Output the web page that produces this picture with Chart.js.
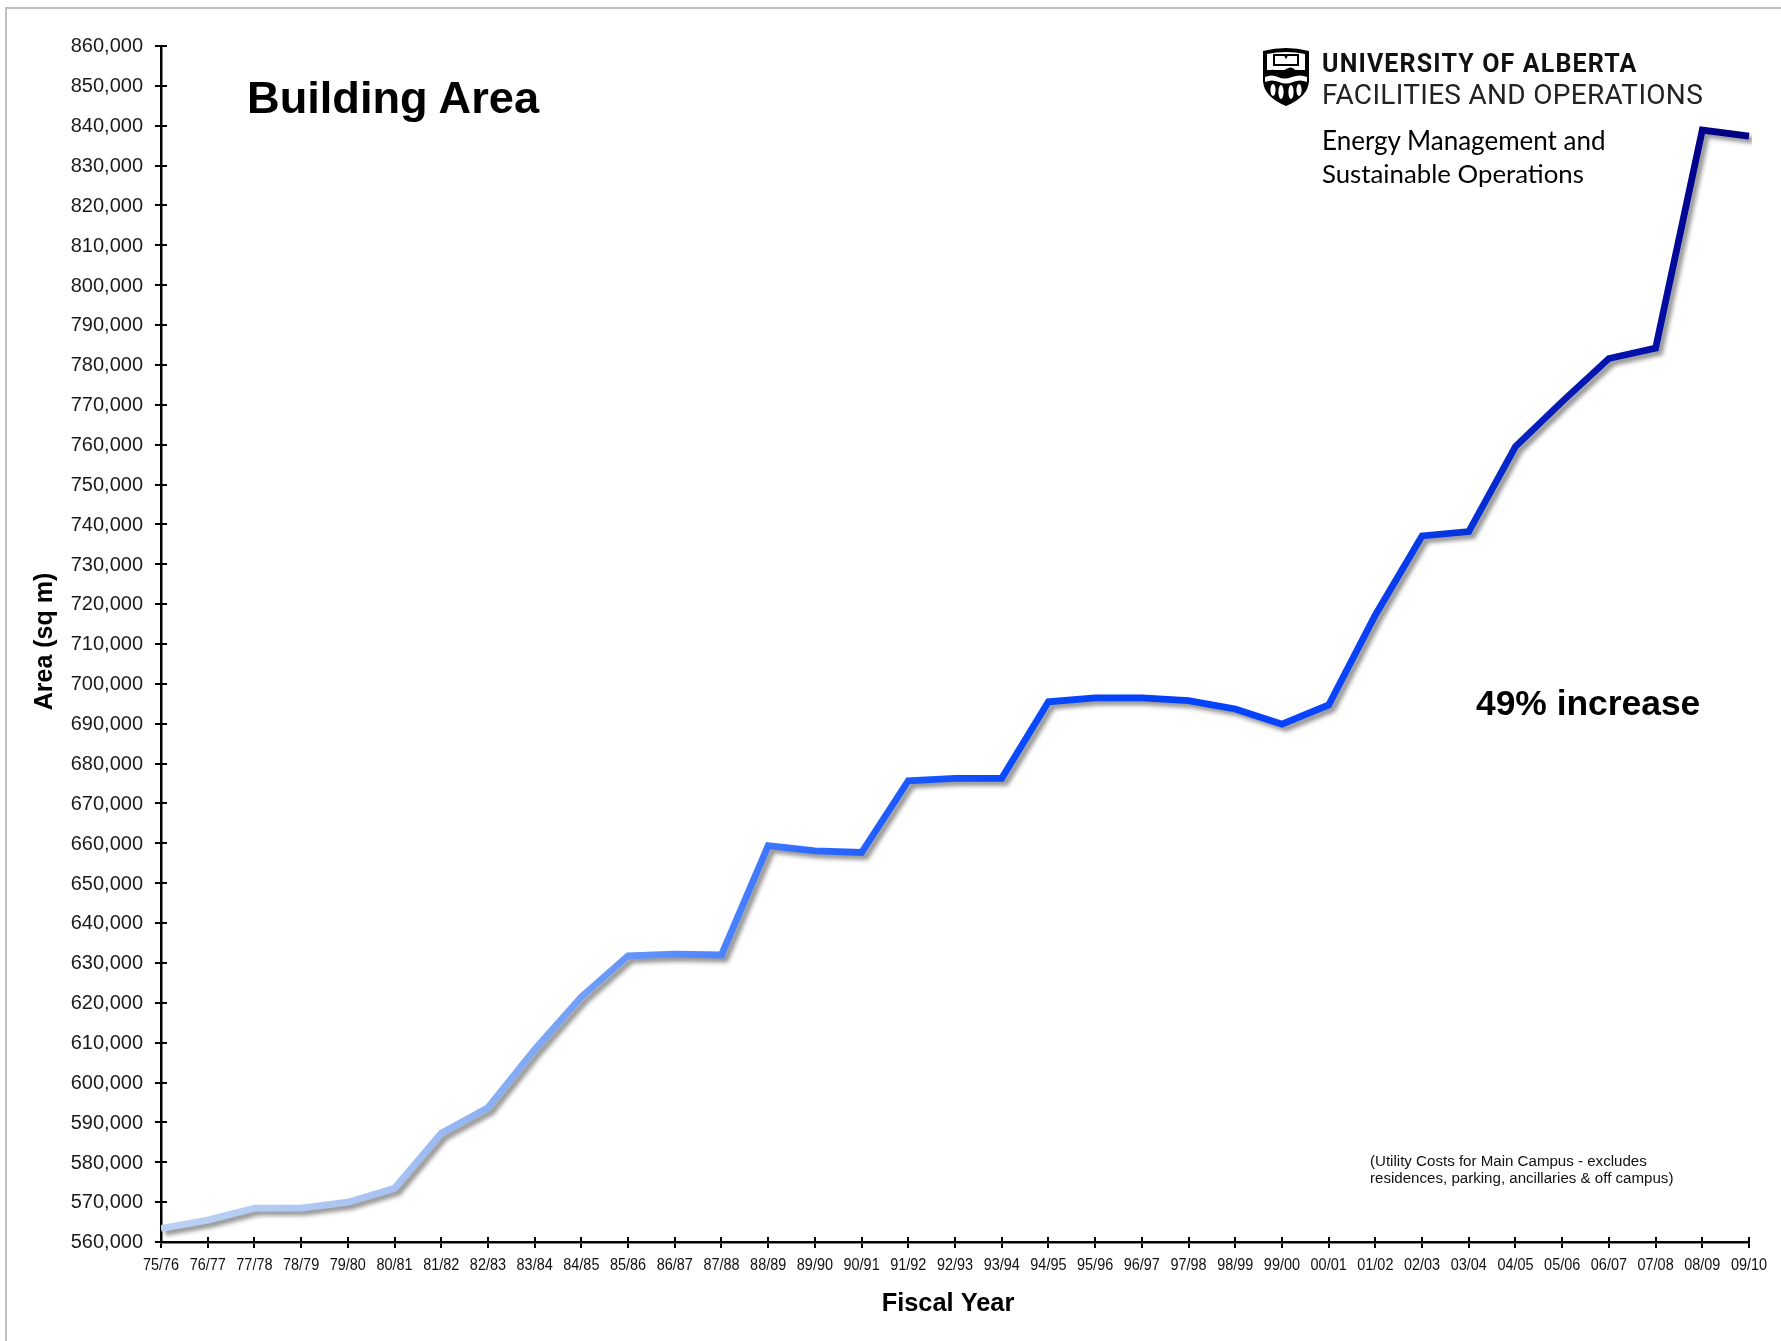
<!DOCTYPE html>
<html><head><meta charset="utf-8">
<style>
html,body{margin:0;padding:0;background:#fff;width:1781px;height:1341px;overflow:hidden}
#frame{position:absolute;left:5px;top:7px;width:1776px;height:1334px;border-left:2px solid #bfbfbf;border-top:2px solid #bfbfbf;box-sizing:border-box}
canvas{position:absolute;left:0;top:0}
.t{position:absolute;white-space:nowrap;line-height:1;color:#000}
.a{font-family:"Liberation Sans",Arial,sans-serif}
</style></head><body>
<div id="frame"></div>
<canvas id="c" width="1781" height="1341"></canvas>
<div class="t a" style="left:247px;top:75px;font-size:45.2px;font-weight:700">Building Area</div>
<div class="t a" style="left:1476px;top:686px;font-size:35.4px;font-weight:700">49% increase</div>
<div class="t a" style="left:1370px;top:1152px;font-size:15.1px;line-height:17px;color:#111">(Utility Costs for Main Campus - excludes<br>residences, parking, ancillaries &amp; off campus)</div>
<svg style="position:absolute;left:1262px;top:47px" width="48" height="60" viewBox="0 0 48 60">
<path d="M1 4 Q24 -2 47 4 L47 34 Q46 50 24 59 Q2 50 1 34 Z" fill="#000"/>
<path d="M5 7 Q24 3 43 7 L43 23 L5 23 Z" fill="#fff"/>
<path d="M12 8 h11 l1 2 l1 -2 h11 v10 h-24 z" fill="none" stroke="#000" stroke-width="2"/>
<path d="M3 28 Q9 20 14 24 Q19 27 24 22 Q30 18 34 24 Q39 27 45 23 L45 31 L3 31 Z" fill="#000"/>
<path d="M3 30 Q10 27 16 30 T30 30 T45 30 L45 35 Q38 32 31 35 T17 35 T3 35 Z" fill="#fff"/>
<g fill="#fff"><ellipse cx="11" cy="43" rx="2.6" ry="6"/><ellipse cx="19" cy="45" rx="2.6" ry="7"/><ellipse cx="29" cy="45" rx="2.6" ry="7"/><ellipse cx="37" cy="43" rx="2.6" ry="6"/></g>
</svg>
<div class="t" style="left:1322px;top:51px;font-family:Roboto,sans-serif;font-size:25px;font-weight:700;letter-spacing:1.15px;color:#111">UNIVERSITY OF ALBERTA</div>
<div class="t" style="left:1322px;top:81px;font-family:Roboto,sans-serif;font-size:28px;font-weight:400;letter-spacing:.3px;color:#222">FACILITIES AND OPERATIONS</div>
<div class="t" style="left:1322px;top:127px;font-family:Lato,sans-serif;font-size:26px;color:#000">Energy Management and</div>
<div class="t" style="left:1322px;top:161px;font-family:Lato,sans-serif;font-size:25.8px;color:#000">Sustainable Operations</div>
<script src="https://cdn.jsdelivr.net/npm/chart.js@4"></script>
<script>
const fiscalYears = ["75/76","76/77","77/78","78/79","79/80","80/81","81/82","82/83","83/84","84/85","85/86","86/87","87/88","88/89","89/90","90/91","91/92","92/93","93/94","94/95","95/96","96/97","97/98","98/99","99/00","00/01","01/02","02/03","03/04","04/05","05/06","06/07","07/08","08/09","09/10"];
const buildingArea = [563400,565500,568500,568500,570000,573500,587300,593700,608300,621500,631800,632200,632000,659400,658100,657700,675700,676300,676300,695500,696500,696500,695800,693700,689900,694700,717300,737100,738200,759500,770800,781600,784200,838900,837400];
const yMin = 560000, yMax = 860000, yStep = 10000;
const gradientStops = [[0,"#bcd2f4"],[0.15,"#a6c1f3"],[0.2,"#8fb2f4"],[0.27,"#6e9df8"],[0.35,"#4d85ff"],[0.42,"#2a66ff"],[0.52,"#0c4cff"],[0.62,"#0041fa"],[0.74,"#0a44ff"],[0.82,"#0433dc"],[0.88,"#0519b4"],[0.94,"#0210a6"],[0.97,"#00008a"],[1,"#000080"]];

const AF = '"Liberation Sans",Arial,sans-serif';
const innerTicks = { id:'innerTicks', beforeDatasetsDraw(ch){
  const {ctx,scales:{x,y}} = ch; ctx.save(); ctx.strokeStyle='#000'; ctx.lineWidth=2; ctx.beginPath();
  y.ticks.forEach((_,i)=>{const p=Math.round(y.getPixelForTick(i));ctx.moveTo(x.left,p);ctx.lineTo(x.left+6,p);});
  x.ticks.forEach((_,i)=>{const p=Math.round(x.getPixelForTick(i));ctx.moveTo(p,y.bottom);ctx.lineTo(p,y.bottom-5);});
  ctx.stroke(); ctx.restore();
}};
const lineShadow = { id:'lineShadow',
  beforeDatasetDraw(ch){const c=ch.ctx;c.save();c.shadowColor='rgba(0,0,0,0.42)';c.shadowOffsetX=4;c.shadowOffsetY=4;c.shadowBlur=4;},
  afterDatasetDraw(ch){ch.ctx.restore();}
};
// Condense/nudge the library's own axis text: narrow sans is not installed.
const axisText = { id:'axisText', afterUpdate(ch){
  const {x,y} = ch.scales, ctx = ch.ctx;
  const wrapLabels = (s,sx,dy)=>{
    const orig = s.drawLabels;
    s.drawLabels = function(area){
      const ft = ctx.fillText;
      ctx.fillText = function(t,a,b,m){ this.save(); this.scale(sx,1); ft.call(this,t,a/sx,b+dy,m); this.restore(); };
      orig.call(this,area);
      delete ctx.fillText;
    };
  };
  const wrapTitle = (s,dx,dy)=>{
    const orig = s.drawTitle;
    s.drawTitle = function(){ ctx.save(); ctx.translate(dx,dy); orig.call(this); ctx.restore(); };
  };
  wrapLabels(x,0.85,0); wrapLabels(y,1,0.8);
  wrapTitle(x,-7,1); wrapTitle(y,2.5,-2.5);
}};
function lineGradient(context){
  const {chart} = context; const a = chart.chartArea; if(!a) return gradientStops[0][1];
  const g = chart.ctx.createLinearGradient(a.left,0,a.right,0);
  gradientStops.forEach(([o,c])=>g.addColorStop(o,c)); return g;
}
new Chart(document.getElementById('c'),{
  type:'line',
  data:{labels:fiscalYears,datasets:[{label:'Building Area',data:buildingArea,borderColor:lineGradient,borderWidth:6.8,tension:0,pointRadius:0,pointHoverRadius:0,fill:false,borderCapStyle:'butt',borderJoinStyle:'miter',clip:{left:0,right:3,top:10,bottom:10}}]},
  options:{
    responsive:false,animation:false,
    layout:{padding:{left:0,top:46,right:32,bottom:0}},
    plugins:{legend:{display:false},tooltip:{enabled:false}},
    scales:{
      x:{type:'category',offset:false,
        afterFit(s){s.height=99;},
        border:{color:'#000',width:2.5},
        grid:{drawOnChartArea:false,color:'#000',lineWidth:2,tickLength:6,tickColor:'#000'},
        ticks:{autoSkip:false,maxRotation:0,minRotation:0,padding:7,color:'#111',font:{family:AF,size:17}},
        title:{display:true,text:'Fiscal Year',color:'#000',font:{family:AF,size:25.4,weight:'700'},padding:{top:0,bottom:23}}
      },
      y:{type:'linear',min:yMin,max:yMax,
        afterFit(s){s.width=161;},
        border:{color:'#000',width:2.5},
        grid:{drawOnChartArea:false,color:'#000',lineWidth:2,tickLength:6,tickColor:'#000'},
        ticks:{stepSize:yStep,padding:12,color:'#1a1a1a',font:{family:AF,size:20},callback:v=>v.toLocaleString('en-US')},
        title:{display:true,text:'Area (sq m)',color:'#000',font:{family:AF,size:25,weight:'700'},padding:{top:28,bottom:0}}
      }
    }
  },
  plugins:[innerTicks,lineShadow,axisText]
});
</script>
</body></html>
